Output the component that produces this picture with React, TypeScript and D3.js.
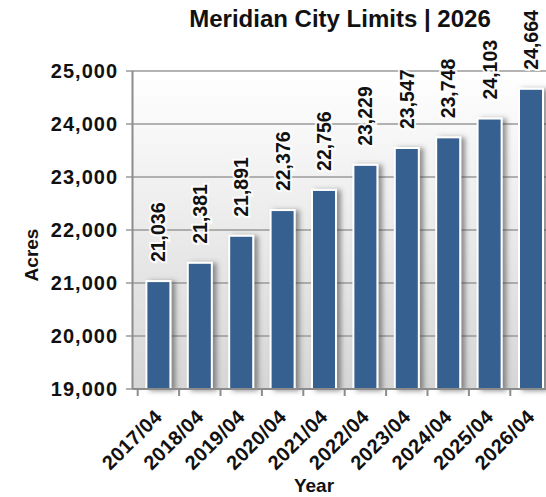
import React from 'react';
import * as d3 from 'd3';

const width = 546;
const height = 497;
const font = '"Liberation Sans", Arial, sans-serif';

const years = ['2017/04', '2018/04', '2019/04', '2020/04', '2021/04', '2022/04', '2023/04', '2024/04', '2025/04', '2026/04'];
const acres = [21036, 21381, 21891, 22376, 22756, 23229, 23547, 23748, 24103, 24664];
const yTicks = [19000, 20000, 21000, 22000, 23000, 24000, 25000];

const plot = { left: 132.5, right: 546, top: 71, bottom: 389 };

const App = () => {
    const xScale = d3.scaleBand()
        .domain(years)
        .range([137.7, 137.7 + 41.4 * years.length])
        .paddingInner(0.42)
        .paddingOuter(0.21);

    const yScale = d3.scaleLinear()
        .domain([19000, 25000])
        .range([plot.bottom, plot.top]);

    const fmt = d3.format(',');
    const step = xScale.step();
    const start = xScale.range()[0];

    return (
        <svg width={width} height={height} style={{ position: 'absolute', left: 0, top: 0, fontFamily: font }}>
            <defs>
                <linearGradient id="bg" x1="0" y1="0" x2="0" y2="1">
                    <stop offset="0" stopColor="#ffffff" />
                    <stop offset="1" stopColor="#d6d6d6" />
                </linearGradient>
                <filter id="shadow" x="-30%" y="-10%" width="180%" height="130%">
                    <feDropShadow dx="4" dy="1" stdDeviation="2.5" floodColor="#404040" floodOpacity="0.55" />
                </filter>
            </defs>

            {/* title */}
            <text x={340} y={27} textAnchor="middle" fontSize={24} fontWeight="bold" fill="#111">
                Meridian City Limits | 2026
            </text>

            {/* plot background */}
            <rect x={plot.left} y={plot.top} width={plot.right - plot.left} height={plot.bottom - plot.top} fill="url(#bg)" />

            {/* gridlines + y ticks */}
            {yTicks.map(t => (
                <g key={t}>
                    <line x1={126} x2={plot.right} y1={yScale(t)} y2={yScale(t)} stroke="#9a9a9a" strokeWidth={1.5} />
                    <text x={118} y={yScale(t)} dy="0.34em" textAnchor="end" fontSize={20} fontWeight="bold" letterSpacing={1} fill="#111">
                        {fmt(t)}
                    </text>
                </g>
            ))}

            {/* bars */}
            {years.map((d, i) => (
                <rect
                    key={d}
                    x={xScale(d)}
                    y={yScale(acres[i])}
                    width={xScale.bandwidth()}
                    height={plot.bottom - yScale(acres[i])}
                    fill="#36608f"
                    stroke="#ffffff"
                    strokeWidth={2}
                    filter="url(#shadow)"
                />
            ))}

            {/* axes */}
            <line x1={plot.left} x2={plot.left} y1={plot.top} y2={plot.bottom} stroke="#8c8c8c" strokeWidth={2} />
            <line x1={plot.left} x2={plot.right} y1={plot.bottom} y2={plot.bottom} stroke="#8c8c8c" strokeWidth={2} />
            {years.map((d, i) => (
                <line key={d} x1={start + i * step} x2={start + i * step} y1={plot.bottom} y2={396} stroke="#8c8c8c" strokeWidth={2} />
            ))}

            {/* value labels */}
            {years.map((d, i) => {
                const cx = xScale(d) + xScale.bandwidth() / 2;
                const y = yScale(acres[i]) - 19;
                return (
                    <text
                        key={d}
                        transform={`translate(${cx},${y}) rotate(-90)`}
                        dy="0.36em"
                        fontSize={19.5}
                        fontWeight="bold"
                        fill="#111"
                        stroke="#ffffff"
                        strokeWidth={4}
                        strokeOpacity={0.85}
                        style={{ paintOrder: 'stroke' }}
                    >
                        {fmt(acres[i])}
                    </text>
                );
            })}

            {/* x tick labels */}
            {years.map(d => {
                const cx = xScale(d) + xScale.bandwidth() / 2;
                return (
                    <text key={d} transform={`translate(${cx + 5},${418}) rotate(-45)`} textAnchor="end" fontSize={20} fontWeight="bold" letterSpacing={0.4} fill="#111">
                        {d}
                    </text>
                );
            })}

            {/* axis titles */}
            <text transform="translate(38,255) rotate(-90)" textAnchor="middle" fontSize={19} fontWeight="bold" fill="#111">
                Acres
            </text>
            <text x={314} y={492} textAnchor="middle" fontSize={19} fontWeight="bold" fill="#111">
                Year
            </text>
        </svg>
    );
};

export default App;
